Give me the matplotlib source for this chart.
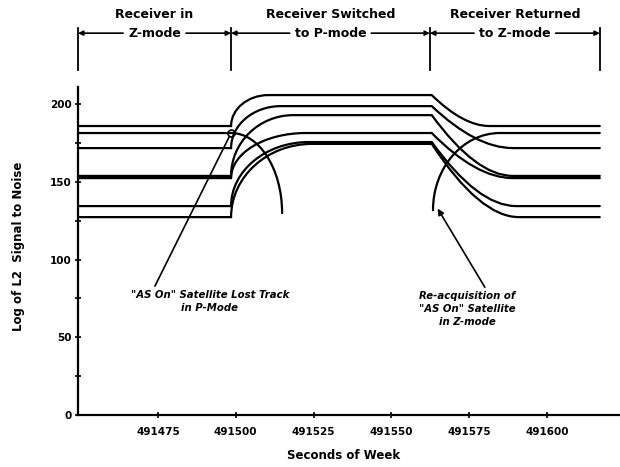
"""L2 signal-to-noise across a Z-mode / P-mode / Z-mode receiver switch."""
import matplotlib

matplotlib.use("Agg")
import matplotlib.pyplot as plt
from matplotlib import transforms
from matplotlib.patches import PathPatch
from matplotlib.path import Path

# seconds of week where the receiver changes mode
t_start = 491449.3
t_to_p = 491498.5
t_to_z = 491563.0
t_end = 491617.0

# six satellites that keep lock: level in Z-mode, level in P-mode,
# seconds taken to climb after the switch and to fall back after it
z_levels = [185.9, 171.7, 153.8, 152.4, 134.4, 127.3]
p_levels = [205.8, 198.7, 192.9, 181.4, 175.6, 174.4]
rise_secs = [12, 16, 20, 24, 25, 26]
fall_secs = [18.5, 26, 26, 26, 27, 28]

# the "AS On" satellite: lost in P-mode, re-acquired in Z-mode
as_z_level = 181.4
as_lost_level = 129.9
as_lost_secs = 16.4
as_reacq_time = 491563.4
as_reacq_level = 131.8
as_reacq_secs = 21.5

mode_bounds = [491449.3, 491498.5, 491562.4, 491617.0]
mode_top = ["Receiver in", "Receiver Switched", "Receiver Returned"]
mode_bottom = ["Z-mode", "to P-mode", "to Z-mode"]

x_ticks = [491475, 491500, 491525, 491550, 491575, 491600]
y_ticks = [0, 50, 100, 150, 200]
y_minor = [25, 75, 125, 175]

K = 0.5523  # cubic bezier factor for a quarter ellipse
M, L, C3, C4 = Path.MOVETO, Path.LINETO, Path.CURVE3, Path.CURVE4


def satellite_path(z, p, rise, fall):
    verts = [
        (t_start, z), (t_to_p, z),
        (t_to_p, z + K * (p - z)), (t_to_p + rise * (1 - K), p), (t_to_p + rise, p),
        (t_to_z, p),
        (t_to_z + 0.55 * fall, z), (t_to_z + fall, z),
        (t_end, z),
    ]
    codes = [M, L, C4, C4, C4, L, C3, C3, L]
    return Path(verts, codes)


def lost_path():
    drop = as_z_level - as_lost_level
    verts = [
        (t_start, as_z_level), (t_to_p, as_z_level),
        (t_to_p + K * as_lost_secs, as_z_level),
        (t_to_p + as_lost_secs, as_lost_level + K * drop),
        (t_to_p + as_lost_secs, as_lost_level),
    ]
    return Path(verts, [M, L, C4, C4, C4])


def reacq_path():
    climb = as_z_level - as_reacq_level
    w = as_reacq_secs
    verts = [
        (as_reacq_time, as_reacq_level),
        (as_reacq_time, as_reacq_level + K * climb),
        (as_reacq_time + w * (1 - K), as_z_level),
        (as_reacq_time + w, as_z_level),
        (t_end, as_z_level),
    ]
    return Path(verts, [M, C4, C4, C4, L])


fig = plt.figure(figsize=(6.2, 4.67), dpi=100)
ax = fig.add_axes([0.1258, 0.1113, 0.8742, 0.7024])
ax.set_xlim(t_start, 491623.5)
ax.set_ylim(0, 211)

line_kw = dict(fill=False, edgecolor="black", linewidth=1.6, capstyle="round")
for z, p, r, f in zip(z_levels, p_levels, rise_secs, fall_secs):
    ax.add_patch(PathPatch(satellite_path(z, p, r, f), **line_kw))
ax.add_patch(PathPatch(lost_path(), **line_kw))
ax.add_patch(PathPatch(reacq_path(), **line_kw))
ax.plot([t_to_p], [as_z_level], marker="o", ms=5, mfc="none", mec="black", mew=1.2)

# axes styling
for side in ("top", "right"):
    ax.spines[side].set_visible(False)
for side in ("left", "bottom"):
    ax.spines[side].set_linewidth(1.6)
ax.set_xticks(x_ticks)
ax.set_xticklabels([str(t) for t in x_ticks])
ax.set_yticks(y_ticks)
ax.set_yticks(y_minor, minor=True)
ax.tick_params(which="both", direction="inout", length=5, width=1.2)
ax.tick_params(axis="x", pad=6, labelsize=7.5)
ax.tick_params(axis="y", pad=2, labelsize=7.5)
for lab in ax.get_xticklabels() + ax.get_yticklabels():
    lab.set_fontweight("bold")

ax.set_xlabel("Seconds of Week", fontsize=8.5, fontweight="bold")
ax.xaxis.set_label_coords(0.49, -0.105)
ax.set_ylabel("Log of L2  Signal to Noise", fontsize=8.5, fontweight="bold")
ax.yaxis.set_label_coords(-0.097, 0.515)

# annotations
note_kw = dict(fontsize=7.3, fontweight="bold", fontstyle="italic",
               ha="center", va="center", multialignment="center", linespacing=1.35)
ax.annotate('"AS On" Satellite Lost Track\nin P-Mode',
            xy=(t_to_p, as_z_level), xytext=(491491.7, 73), **note_kw,
            arrowprops=dict(arrowstyle="-", lw=1.2, color="black",
                            relpos=(0.14, 1.0), shrinkA=1, shrinkB=3))
ax.annotate('Re-acquisition of\n"AS On" Satellite\nin Z-mode',
            xy=(as_reacq_time + 1.5, as_reacq_level + 1), xytext=(491574.3, 68.2), **note_kw,
            arrowprops=dict(arrowstyle="-|>", lw=1.2, color="black", mutation_scale=9,
                            relpos=(0.71, 1.0), shrinkA=1, shrinkB=0))

# mode header above the plot
trans = transforms.blended_transform_factory(ax.transData, fig.transFigure)
head_kw = dict(fontsize=9, fontweight="bold", ha="center", va="center",
               transform=trans, clip_on=False)
for b in mode_bounds:
    ax.plot([b, b], [0.850, 0.940], color="black", lw=1.3, transform=trans, clip_on=False)
labels = []
for i in range(len(mode_top)):
    mid = (mode_bounds[i] + mode_bounds[i + 1]) / 2
    ax.text(mid, 0.968, mode_top[i], **head_kw)
    labels.append(ax.text(mid, 0.929, mode_bottom[i], **head_kw))

fig.canvas.draw()
inv = ax.transData.inverted()
arrow_kw = dict(arrowstyle="-|>", lw=1.2, color="black", mutation_scale=7,
                shrinkA=0, shrinkB=0)
for i, txt in enumerate(labels):
    bb = txt.get_window_extent()
    left = inv.transform((bb.x0 - 5, 0))[0]
    right = inv.transform((bb.x1 + 5, 0))[0]
    ax.annotate("", xy=(mode_bounds[i], 0.929), xytext=(left, 0.929),
                xycoords=trans, textcoords=trans, arrowprops=arrow_kw)
    ax.annotate("", xy=(mode_bounds[i + 1], 0.929), xytext=(right, 0.929),
                xycoords=trans, textcoords=trans, arrowprops=arrow_kw)

fig.savefig("out.png", dpi=100)
